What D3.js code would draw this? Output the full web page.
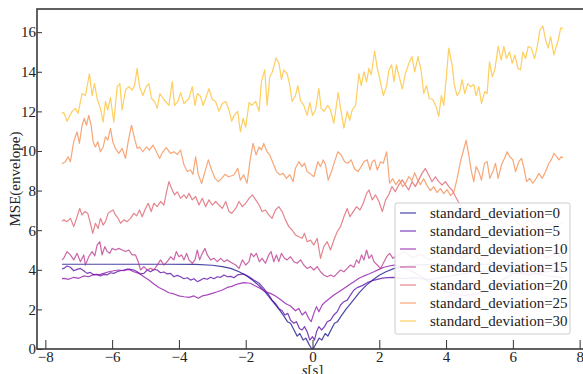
<!DOCTYPE html>
<html>
<head>
<meta charset="utf-8">
<script src="https://cdn.jsdelivr.net/npm/d3@7"></script>
<style>
  body { margin: 0; background: #fff; }
  svg { display: block; }
  text { font-family: "Liberation Serif", "Times New Roman", serif; }
  .axis text { font-size: 15px; fill: #222; }
  .axis line { stroke: #333; stroke-width: 1; }
  .series { fill: none; stroke-width: 1.2; stroke-opacity: 0.75; stroke-linejoin: round; }
  .legend text { font-size: 15px; fill: #222; }
</style>
</head>
<body>
<script>
var width = 583,
  height = 374;

var fontFamily = '"Liberation Serif", "Times New Roman", serif';

var deviations = [0, 5, 10, 15, 20, 25, 30];
var xTicks = [-8, -6, -4, -2, 0, 2, 4, 6, 8];
var yTicks = [0, 2, 4, 6, 8, 10, 12, 14, 16];

// [s, MSE]
var sd0 = [[-7.5,4.28],[-6.0,4.28],[-4.5,4.28],[-3.5,4.27],[-3.0,4.23],[-2.7,4.16],[-2.45,4.07],[-2.2,3.9],[-2.0,3.72],[-1.8,3.48],[-1.6,3.2],[-1.4,2.85],[-1.2,2.42],[-1.0,2.0],[-0.85,1.65],[-0.75,1.38],[-0.66,1.3],[-0.56,0.98],[-0.46,0.65],[-0.38,0.78],[-0.28,0.45],[-0.2,0.55],[-0.1,0.22],[-0.04,0.05],[0.0,0.0],[0.04,0.06],[0.1,0.25],[0.2,0.55],[0.28,0.45],[0.38,0.78],[0.46,0.65],[0.56,0.98],[0.66,1.3],[0.75,1.38],[0.85,1.65],[1.0,2.0],[1.2,2.42],[1.4,2.85],[1.6,3.2],[1.8,3.48],[2.0,3.72],[2.2,3.9],[2.45,4.07],[2.7,4.16],[3.0,4.23],[3.5,4.27],[4.5,4.28],[6.0,4.28],[7.5,4.28]];

var sd5 = [[-7.5,4.05],[-7.45,4.07],[-7.35,4.19],[-7.25,4.13],[-7.15,3.95],[-7.05,4.02],[-6.95,4.07],[-6.85,3.95],[-6.75,3.82],[-6.65,3.87],[-6.55,3.74],[-6.45,3.77],[-6.35,3.69],[-6.25,3.77],[-6.15,3.74],[-6.05,3.85],[-5.95,3.82],[-5.85,3.9],[-5.75,3.95],[-5.65,3.99],[-5.55,4.04],[-5.45,4.02],[-5.35,3.99],[-5.25,3.9],[-5.15,3.79],[-5.05,3.82],[-4.95,3.99],[-4.85,3.9],[-4.75,4.02],[-4.65,3.99],[-4.55,3.85],[-4.45,3.89],[-4.35,3.79],[-4.25,3.82],[-4.15,3.65],[-4.05,3.72],[-3.95,3.65],[-3.85,3.55],[-3.75,3.6],[-3.65,3.48],[-3.55,3.55],[-3.45,3.4],[-3.35,3.48],[-3.25,3.57],[-3.15,3.52],[-3.05,3.62],[-2.95,3.55],[-2.85,3.65],[-2.75,3.62],[-2.65,3.74],[-2.55,3.65],[-2.45,3.67],[-2.35,3.6],[-2.25,3.74],[-2.06,3.79],[-1.9,3.65],[-1.76,3.48],[-1.6,3.32],[-1.46,3.06],[-1.31,2.73],[-1.21,2.47],[-1.11,2.3],[-1.01,2.05],[-0.91,1.93],[-0.83,1.72],[-0.74,1.8],[-0.66,1.46],[-0.56,1.3],[-0.48,1.38],[-0.39,1.04],[-0.31,0.96],[-0.24,1.13],[-0.16,0.87],[-0.08,0.45],[0.0,0.62],[0.06,0.45],[0.12,0.87],[0.19,1.13],[0.27,0.96],[0.36,1.13],[0.44,1.38],[0.54,1.46],[0.64,1.72],[0.74,1.88],[0.84,2.22],[0.94,2.39],[1.04,2.47],[1.14,2.73],[1.24,2.98],[1.34,3.1],[1.49,3.2],[1.64,3.35],[1.79,3.45],[1.94,3.52],[2.09,3.58],[2.24,3.6],[2.44,3.62],[2.75,3.55],[3.0,3.6],[3.5,3.5],[4.0,3.65],[4.5,3.8],[5.0,3.9],[5.5,4.0],[6.0,3.85],[6.5,3.75],[7.0,3.9],[7.5,4.05]];

var sd10 = [[-7.5,3.55],[-7.45,3.57],[-7.3,3.52],[-7.15,3.62],[-7.0,3.57],[-6.85,3.69],[-6.7,3.65],[-6.55,3.77],[-6.4,3.74],[-6.25,3.82],[-6.1,3.9],[-5.95,3.95],[-5.8,3.99],[-5.65,3.95],[-5.5,4.02],[-5.35,3.9],[-5.2,3.82],[-5.05,3.65],[-4.9,3.48],[-4.75,3.28],[-4.6,3.11],[-4.45,2.98],[-4.3,2.84],[-4.15,2.78],[-4.0,2.68],[-3.85,2.64],[-3.7,2.61],[-3.55,2.68],[-3.42,2.56],[-3.3,2.68],[-3.15,2.73],[-3.0,2.81],[-2.85,2.89],[-2.7,2.98],[-2.55,3.11],[-2.42,3.16],[-2.25,3.28],[-2.06,3.35],[-1.86,3.32],[-1.71,3.18],[-1.56,3.06],[-1.41,2.89],[-1.26,2.81],[-1.11,2.68],[-0.96,2.5],[-0.81,2.3],[-0.66,2.17],[-0.51,1.93],[-0.41,2.05],[-0.31,1.72],[-0.21,1.88],[-0.11,1.54],[-0.04,1.38],[0.04,1.8],[0.12,2.14],[0.19,1.88],[0.29,2.22],[0.39,2.39],[0.52,2.56],[0.64,2.73],[0.79,2.89],[0.94,3.06],[1.09,3.23],[1.24,3.4],[1.39,3.57],[1.54,3.69],[1.69,3.79],[1.84,3.9],[1.99,4.02],[2.14,4.13],[2.29,4.19],[2.44,4.24],[2.7,4.1],[3.0,3.9],[3.5,3.4],[4.0,2.9],[4.5,2.7],[5.0,2.8],[5.5,3.3],[6.0,3.8],[6.5,3.9],[7.0,3.7],[7.5,3.6]];

var sd15 = [[-7.5,4.5],[-7.45,4.58],[-7.35,4.92],[-7.25,4.75],[-7.15,4.5],[-7.05,4.83],[-6.95,4.41],[-6.85,4.75],[-6.8,4.24],[-6.7,4.66],[-6.6,4.92],[-6.52,4.7],[-6.45,5.25],[-6.37,5.42],[-6.3,4.75],[-6.22,5.17],[-6.15,4.92],[-6.07,4.83],[-6.0,5.08],[-5.9,5.0],[-5.8,5.08],[-5.7,5.0],[-5.6,4.92],[-5.5,5.0],[-5.4,4.75],[-5.3,4.75],[-5.22,4.41],[-5.15,3.99],[-5.05,4.16],[-4.95,3.99],[-4.85,4.07],[-4.75,3.99],[-4.65,4.24],[-4.55,4.5],[-4.45,4.24],[-4.35,4.41],[-4.25,4.66],[-4.15,4.5],[-4.08,4.92],[-4.0,4.66],[-3.92,4.75],[-3.85,4.5],[-3.77,4.83],[-3.7,4.5],[-3.6,4.33],[-3.52,4.5],[-3.45,5.0],[-3.38,4.5],[-3.3,4.83],[-3.22,5.08],[-3.15,4.75],[-3.05,4.5],[-2.95,4.58],[-2.85,4.41],[-2.75,4.58],[-2.65,4.41],[-2.55,4.5],[-2.45,4.38],[-2.3,4.24],[-2.2,4.07],[-2.1,4.5],[-2.0,4.24],[-1.9,4.41],[-1.84,4.83],[-1.76,4.66],[-1.68,4.83],[-1.59,4.41],[-1.51,4.58],[-1.41,4.33],[-1.31,4.75],[-1.24,4.92],[-1.16,4.41],[-1.08,4.75],[-1.01,4.41],[-0.93,4.83],[-0.84,4.58],[-0.76,4.5],[-0.66,4.66],[-0.56,4.41],[-0.46,4.33],[-0.36,4.5],[-0.26,4.24],[-0.16,4.07],[-0.06,4.16],[0.04,3.99],[0.14,4.16],[0.24,3.9],[0.34,3.74],[0.44,3.65],[0.54,3.74],[0.64,3.65],[0.74,3.82],[0.84,3.99],[0.94,3.9],[1.04,4.07],[1.14,4.24],[1.24,4.13],[1.32,4.5],[1.39,4.33],[1.47,4.75],[1.54,4.5],[1.62,5.0],[1.69,4.58],[1.77,4.75],[1.84,4.41],[1.94,4.24],[2.04,4.07],[2.12,4.33],[2.22,4.66],[2.31,4.83],[2.41,4.58],[2.5,4.7],[2.75,4.9],[3.0,4.6],[3.25,4.8],[3.5,4.5],[3.75,4.7],[4.0,4.4],[4.25,4.8],[4.5,4.6],[4.75,4.9],[5.0,4.5],[5.25,4.7],[5.5,5.0],[5.75,4.8],[6.0,5.2],[6.25,4.9],[6.5,4.7],[6.75,4.9],[7.0,4.6],[7.25,4.8],[7.5,4.6]];

var sd20 = [[-7.5,6.45],[-7.45,6.52],[-7.35,6.43],[-7.25,6.6],[-7.15,6.18],[-7.05,6.68],[-6.97,7.1],[-6.9,6.77],[-6.82,6.94],[-6.73,6.85],[-6.65,6.35],[-6.58,5.84],[-6.5,6.35],[-6.42,6.09],[-6.35,6.6],[-6.27,6.26],[-6.2,6.43],[-6.12,6.85],[-6.05,6.94],[-5.97,7.02],[-5.9,6.77],[-5.82,6.6],[-5.75,6.35],[-5.65,6.52],[-5.55,6.43],[-5.45,6.6],[-5.35,6.85],[-5.27,6.72],[-5.18,7.02],[-5.1,6.68],[-5.0,7.1],[-4.92,7.36],[-4.83,6.94],[-4.75,7.36],[-4.65,7.19],[-4.55,7.45],[-4.45,7.27],[-4.37,7.94],[-4.3,8.45],[-4.22,8.11],[-4.13,7.78],[-4.05,7.94],[-3.95,7.61],[-3.85,7.78],[-3.77,7.61],[-3.7,7.86],[-3.6,7.53],[-3.5,7.7],[-3.4,7.27],[-3.3,7.61],[-3.2,7.19],[-3.1,7.53],[-3.0,7.27],[-2.9,7.45],[-2.8,7.27],[-2.7,7.1],[-2.6,7.45],[-2.5,6.94],[-2.42,6.85],[-2.3,7.1],[-2.2,7.45],[-2.1,7.19],[-2.0,7.36],[-1.9,7.61],[-1.8,7.78],[-1.7,7.53],[-1.6,7.27],[-1.51,6.94],[-1.41,7.02],[-1.31,6.77],[-1.21,6.6],[-1.11,7.02],[-1.01,7.19],[-0.91,6.94],[-0.81,6.52],[-0.71,6.18],[-0.61,6.01],[-0.51,5.76],[-0.41,5.67],[-0.31,5.59],[-0.24,5.84],[-0.16,5.42],[-0.06,5.5],[0.04,5.25],[0.14,5.59],[0.24,4.58],[0.34,5.17],[0.44,5.42],[0.54,5.0],[0.64,5.5],[0.74,5.92],[0.84,6.18],[0.94,6.68],[1.04,7.1],[1.12,6.68],[1.22,6.94],[1.32,7.19],[1.42,7.02],[1.52,7.36],[1.62,7.86],[1.69,8.03],[1.79,7.53],[1.89,7.78],[1.99,7.45],[2.09,6.94],[2.19,7.53],[2.28,7.78],[2.38,8.2],[2.48,7.94],[2.58,8.28],[2.69,8.54],[2.78,8.28],[2.88,8.03],[2.98,8.45],[3.08,8.2],[3.18,8.54],[3.28,8.87],[3.38,9.12],[3.48,8.79],[3.58,8.45],[3.68,8.7],[3.78,8.45],[3.88,8.28],[3.98,8.45],[4.08,8.2],[4.18,8.03],[4.28,7.7],[4.36,7.45],[4.5,7.1],[4.75,6.8],[5.0,6.9],[5.25,6.5],[5.5,6.7],[5.75,6.3],[6.0,6.6],[6.25,6.2],[6.5,6.5],[6.75,6.1],[7.0,6.4],[7.25,6.2],[7.5,6.4]];

var sd25 = [[-7.5,9.35],[-7.48,9.38],[-7.4,9.46],[-7.32,9.71],[-7.25,9.46],[-7.15,10.47],[-7.05,10.97],[-6.98,10.38],[-6.9,11.3],[-6.83,11.65],[-6.77,11.3],[-6.7,11.8],[-6.63,11.3],[-6.57,10.47],[-6.5,10.2],[-6.43,10.47],[-6.35,9.96],[-6.27,10.2],[-6.2,10.72],[-6.13,10.55],[-6.05,11.14],[-5.98,10.47],[-5.9,10.13],[-5.8,9.88],[-5.7,10.13],[-5.6,9.63],[-5.52,10.47],[-5.42,11.3],[-5.33,10.64],[-5.25,10.13],[-5.18,10.2],[-5.08,9.96],[-4.98,10.2],[-4.88,10.05],[-4.78,10.3],[-4.7,10.05],[-4.58,9.63],[-4.48,9.96],[-4.38,10.17],[-4.25,9.88],[-4.15,9.96],[-4.05,9.83],[-3.95,10.05],[-3.85,9.3],[-3.75,8.96],[-3.65,9.04],[-3.58,8.82],[-3.5,9.71],[-3.42,8.82],[-3.32,8.36],[-3.22,8.96],[-3.12,9.55],[-3.02,9.04],[-2.92,8.62],[-2.82,8.45],[-2.72,8.62],[-2.62,8.82],[-2.52,8.7],[-2.42,8.75],[-2.35,8.8],[-2.24,9.13],[-2.16,8.53],[-2.06,8.8],[-1.96,8.37],[-1.86,9.63],[-1.78,10.38],[-1.69,9.8],[-1.6,10.2],[-1.53,10.05],[-1.46,10.38],[-1.36,9.96],[-1.28,9.8],[-1.18,9.38],[-1.08,8.96],[-0.98,8.8],[-0.88,8.87],[-0.78,8.62],[-0.68,8.8],[-0.58,8.45],[-0.51,9.13],[-0.41,9.46],[-0.31,9.21],[-0.24,9.38],[-0.16,8.96],[-0.06,8.83],[0.04,8.7],[0.16,9.46],[0.24,9.21],[0.32,9.55],[0.39,9.3],[0.47,8.53],[0.57,8.96],[0.66,9.46],[0.76,9.96],[0.86,9.8],[0.96,9.46],[1.06,9.38],[1.16,9.55],[1.26,9.09],[1.36,8.96],[1.46,9.21],[1.54,9.46],[1.64,9.55],[1.72,9.04],[1.79,9.46],[1.86,9.55],[1.94,9.04],[2.04,9.46],[2.12,9.38],[2.22,9.96],[2.31,8.37],[2.4,8.6],[2.5,8.3],[2.6,8.55],[2.7,8.2],[2.78,8.35],[2.88,8.7],[2.98,8.5],[3.06,8.9],[3.13,8.6],[3.23,8.3],[3.33,8.6],[3.43,8.25],[3.53,8.0],[3.63,8.2],[3.73,7.9],[3.83,8.1],[3.93,7.85],[4.03,8.05],[4.13,7.75],[4.23,7.9],[4.33,8.6],[4.43,9.46],[4.51,9.96],[4.6,10.55],[4.68,9.8],[4.76,8.96],[4.83,8.45],[4.9,9.21],[4.98,8.96],[5.06,8.53],[5.15,9.38],[5.23,9.46],[5.31,8.62],[5.4,8.96],[5.48,9.38],[5.56,8.62],[5.66,9.3],[5.75,9.63],[5.83,9.96],[5.91,9.71],[6.0,9.55],[6.08,8.96],[6.18,9.46],[6.26,9.63],[6.33,9.13],[6.41,8.45],[6.5,8.62],[6.6,8.37],[6.7,8.62],[6.78,8.87],[6.88,8.62],[6.98,8.96],[7.08,9.38],[7.15,9.55],[7.23,9.88],[7.31,9.71],[7.38,9.55],[7.45,9.71],[7.5,9.65]];

var sd30 = [[-7.5,11.9],[-7.45,11.95],[-7.35,11.5],[-7.2,12.0],[-7.1,12.15],[-7.02,11.9],[-6.9,12.9],[-6.8,12.8],[-6.68,13.9],[-6.6,12.8],[-6.53,13.4],[-6.45,12.65],[-6.35,12.15],[-6.27,11.45],[-6.2,12.5],[-6.13,12.07],[-6.05,12.7],[-5.95,11.45],[-5.85,13.25],[-5.77,13.4],[-5.7,12.07],[-5.6,13.08],[-5.5,13.25],[-5.4,13.08],[-5.33,13.3],[-5.25,14.17],[-5.18,13.25],[-5.08,12.8],[-4.98,13.25],[-4.9,13.4],[-4.82,12.65],[-4.73,12.5],[-4.65,12.15],[-4.57,12.9],[-4.45,12.6],[-4.3,12.3],[-4.2,13.5],[-4.13,12.3],[-4.03,12.5],[-3.95,12.95],[-3.85,12.4],[-3.7,12.65],[-3.6,13.25],[-3.52,12.3],[-3.45,12.9],[-3.35,12.75],[-3.28,12.3],[-3.2,12.65],[-3.1,13.15],[-3.0,12.6],[-2.9,12.5],[-2.8,12.0],[-2.7,12.4],[-2.6,12.5],[-2.5,12.07],[-2.42,11.5],[-2.35,11.8],[-2.24,12.0],[-2.16,10.97],[-2.08,11.65],[-2.0,11.2],[-1.9,12.45],[-1.82,12.3],[-1.7,12.5],[-1.6,12.0],[-1.53,13.5],[-1.43,14.1],[-1.36,12.3],[-1.28,13.75],[-1.2,14.0],[-1.09,14.7],[-1.0,14.4],[-0.93,13.6],[-0.86,14.1],[-0.76,13.9],[-0.69,13.4],[-0.61,12.5],[-0.51,12.8],[-0.44,13.3],[-0.36,12.55],[-0.26,12.3],[-0.16,11.8],[-0.08,12.45],[0.0,11.8],[0.09,12.07],[0.19,13.15],[0.26,12.15],[0.34,12.0],[0.46,12.3],[0.54,12.07],[0.64,11.4],[0.77,12.95],[0.84,12.15],[0.94,11.15],[1.04,12.0],[1.11,11.55],[1.19,12.07],[1.29,12.3],[1.39,13.9],[1.46,13.3],[1.54,14.0],[1.62,13.5],[1.69,14.17],[1.76,13.85],[1.86,15.05],[1.94,14.17],[2.02,13.6],[2.12,12.8],[2.22,13.3],[2.29,14.1],[2.37,14.35],[2.44,13.5],[2.51,14.35],[2.58,13.85],[2.69,13.13],[2.78,13.9],[2.88,14.4],[2.98,14.77],[3.06,14.0],[3.16,14.77],[3.25,14.1],[3.33,12.9],[3.41,13.3],[3.5,12.65],[3.6,12.6],[3.7,12.25],[3.78,11.75],[3.86,12.8],[3.93,12.3],[4.0,13.6],[4.08,15.2],[4.18,14.35],[4.25,13.3],[4.33,12.8],[4.41,13.0],[4.48,13.6],[4.56,12.9],[4.65,13.4],[4.73,13.25],[4.83,13.35],[4.9,12.8],[4.98,13.25],[5.06,12.4],[5.16,13.0],[5.23,12.9],[5.3,14.5],[5.38,13.75],[5.46,14.1],[5.56,15.28],[5.65,14.6],[5.73,15.28],[5.81,14.67],[5.9,15.0],[5.98,14.43],[6.06,14.85],[6.15,14.17],[6.23,14.1],[6.3,15.0],[6.38,14.67],[6.46,15.28],[6.55,15.2],[6.65,14.67],[6.73,15.28],[6.81,16.1],[6.9,16.3],[6.98,15.6],[7.06,15.2],[7.13,15.78],[7.23,14.85],[7.3,15.28],[7.36,15.6],[7.43,16.2],[7.5,16.2]];

var series = [sd0, sd5, sd10, sd15, sd20, sd25, sd30];

var plot = { left: 37, right: 588, top: 9, bottom: 349 };

var x = d3.scaleLinear()
  .domain([-8.25, 8.25])
  .range([plot.left, plot.right]);

var y = d3.scaleLinear()
  .domain([0, 17.17])
  .range([plot.bottom, plot.top]);

var color = function(i) {
  return d3.interpolatePlasma(i / deviations.length);
};

var line = d3.line()
  .x(function(d) { return x(d[0]); })
  .y(function(d) { return y(d[1]); });

var minus = function(d) {
  return d < 0 ? "\u2212" + Math.abs(d) : "" + d;
};

var svg = d3.select("body").append("svg")
  .attr("width", width)
  .attr("height", height)
  .attr("font-family", fontFamily);

svg.append("g")
  .attr("class", "axis")
  .attr("transform", "translate(0," + plot.bottom + ")")
  .call(d3.axisBottom(x).tickValues(xTicks).tickFormat(minus)
    .tickSizeInner(-9).tickSizeOuter(0).tickPadding(2))
  .attr("font-family", fontFamily)
  .call(function(g) { g.select(".domain").remove(); });

svg.append("g")
  .attr("class", "axis")
  .attr("transform", "translate(" + plot.left + ",0)")
  .call(d3.axisLeft(y).tickValues(yTicks)
    .tickSizeInner(-5).tickSizeOuter(0).tickPadding(1))
  .attr("font-family", fontFamily)
  .call(function(g) { g.select(".domain").remove(); });

svg.selectAll("path.series")
  .data(series)
  .enter().append("path")
    .attr("class", "series")
    .attr("stroke", function(d, i) { return color(i); })
    .attr("d", line);

// frame, its right edge falls just past the picture
svg.append("rect")
  .attr("x", plot.left)
  .attr("y", plot.top)
  .attr("width", plot.right - plot.left)
  .attr("height", plot.bottom - plot.top)
  .attr("fill", "none")
  .attr("stroke", "#3a3a3a")
  .attr("stroke-width", 1.6);

svg.append("text")
  .attr("transform", "translate(20," + (plot.top + plot.bottom) / 2 + ") rotate(-90)")
  .attr("text-anchor", "middle")
  .attr("font-size", "15px")
  .attr("fill", "#222")
  .text("MSE(envelope)");

// x label sits at the bottom edge and is partly cut off, as in the source
var xlab = svg.append("text")
  .attr("x", x(0))
  .attr("y", 375)
  .attr("text-anchor", "middle")
  .attr("font-size", "15px")
  .attr("fill", "#222");
xlab.append("tspan").attr("font-style", "italic").text("s");
xlab.append("tspan").text("[s]");

var legend = svg.append("g")
  .attr("class", "legend")
  .attr("transform", "translate(395,203)");

legend.append("rect")
  .attr("width", 175)
  .attr("height", 131)
  .attr("rx", 2)
  .attr("fill", "#fff")
  .attr("fill-opacity", 0.9)
  .attr("stroke", "#cccccc");

var item = legend.selectAll("g.item")
  .data(deviations)
  .enter().append("g")
    .attr("class", "item")
    .attr("transform", function(d, i) { return "translate(0," + (10 + i * 18) + ")"; });

item.append("line")
  .attr("x1", 5)
  .attr("x2", 21)
  .attr("stroke", function(d, i) { return color(i); })
  .attr("stroke-width", 1.2)
  .attr("stroke-opacity", 0.75);

item.append("text")
  .attr("x", 35)
  .attr("dy", "0.33em")
  .text(function(d) { return "standard_deviation=" + d; });
</script>
</body>
</html>
